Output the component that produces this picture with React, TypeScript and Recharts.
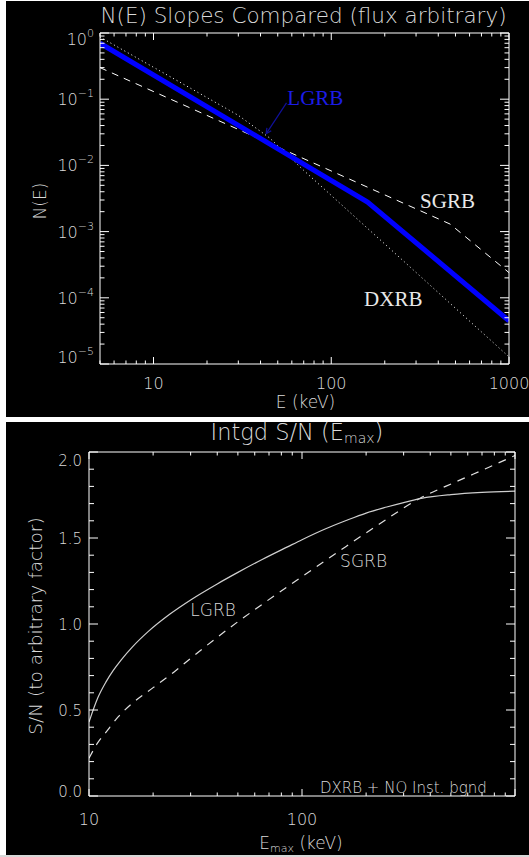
import React from 'react';
import { LineChart, Line, XAxis, YAxis, ReferenceDot, ReferenceLine } from 'recharts';

// ---------------- Top panel: N(E) slopes ----------------
const lgrbE = [5, 160, 1000];
const lgrbN = [0.7, 0.0028, 0.000045];
const sgrbE = [5, 466, 1000];
const sgrbN = [0.3, 0.0013, 0.00024];
const dxrbE = [5, 15, 30, 45, 70, 200, 1000];
const dxrbN = [0.87, 0.164, 0.057, 0.026, 0.0084, 0.00065, 0.0000128];

const topXMajor = [10, 100, 1000];
const topXLabels = ['10', '100', '1000'];
const topXMinor = [5, 6, 7, 8, 9, 20, 30, 40, 50, 60, 70, 80, 90, 200, 300, 400, 500, 600, 700, 800, 900];
const topYMajor = [1, 0.1, 0.01, 0.001, 0.0001, 0.00001];
const topYExp = ['0', '\u22121', '\u22122', '\u22123', '\u22124', '\u22125'];
const minorMult = [2, 3, 4, 5, 6, 7, 8, 9];
const topYMinor = [0.00001, 0.0001, 0.001, 0.01, 0.1].flatMap((d) => minorMult.map((m) => m * d));

// ---------------- Bottom panel: integrated S/N ----------------
const snLgrbE = [10, 11, 12, 13, 14.2, 16, 19, 24, 30, 40, 50, 65, 86, 100, 130, 160, 200, 250, 300, 363, 500, 700, 1000];
const snLgrbV = [0.43, 0.571, 0.662, 0.73, 0.793, 0.867, 0.957, 1.058, 1.14, 1.233, 1.3, 1.375, 1.45, 1.49, 1.555, 1.6, 1.645, 1.68, 1.706, 1.73, 1.752, 1.765, 1.772];
const snSgrbE = [10, 11, 12, 13.7, 16, 20, 25, 30, 46, 61, 96, 148, 230, 357, 536, 750, 1000];
const snSgrbV = [0.22, 0.31, 0.37, 0.46, 0.54, 0.63, 0.72, 0.8, 0.98, 1.09, 1.26, 1.42, 1.58, 1.73, 1.83, 1.91, 1.98];

const botXMajor = [10, 100, 1000];
const botXLabels = ['10', '100', ''];
const botXMinor = [20, 30, 40, 50, 60, 70, 80, 90, 200, 300, 400, 500, 600, 700, 800, 900];
const botYMajor = [0, 0.5, 1, 1.5, 2];
const botYLabels = ['0.0', '0.5', '1.0', '1.5', '2.0'];
const botYMinor = [0.1, 0.2, 0.3, 0.4, 0.6, 0.7, 0.8, 0.9, 1.1, 1.2, 1.3, 1.4, 1.6, 1.7, 1.8, 1.9];

const toPts = (xs: number[], ys: number[]) => xs.map((e, i) => ({ e, v: ys[i] }));

const FG = '#dadada';
const SANS = "'DejaVu Sans', 'Liberation Sans', sans-serif";
const SERIF = "'Liberation Serif', 'DejaVu Serif', serif";

const xTick = (
  majors: number[],
  labels: string[] | null,
  side: 'bottom' | 'top',
  majLen: number,
  minLen: number,
  labelDy: number,
  fs: number
) =>
  (p: any) => {
    const v = p.payload.value;
    const idx = majors.indexOf(v);
    const len = idx >= 0 ? majLen : minLen;
    const d = side === 'bottom' ? -1 : 1;
    return (
      <g>
        <line x1={p.x} x2={p.x} y1={p.y} y2={p.y + d * len} stroke="#fff" strokeWidth={1} />
        {labels && idx >= 0 && labels[idx] ? (
          <text x={p.x} y={p.y + labelDy} textAnchor="middle" fontSize={fs} fill={FG} fontFamily={SANS} fontWeight={200}>
            {labels[idx]}
          </text>
        ) : null}
      </g>
    );
  };

const yTick = (
  majors: number[],
  render: ((idx: number, x: number, y: number) => React.ReactNode) | null,
  side: 'left' | 'right',
  majLen: number,
  minLen: number
) =>
  (p: any) => {
    const v = p.payload.value;
    const idx = majors.findIndex((m) => Math.abs(m - v) < 1e-12 * Math.max(1, Math.abs(m)) || m === v);
    const len = idx >= 0 ? majLen : minLen;
    const d = side === 'left' ? 1 : -1;
    return (
      <g>
        <line x1={p.x} x2={p.x + d * len} y1={p.y} y2={p.y} stroke="#fff" strokeWidth={1} />
        {render && idx >= 0 ? render(idx, p.x, p.y) : null}
      </g>
    );
  };

const topYLabel = (idx: number, x: number, y: number) => {
  const last = topYMajor.length - 1;
  const base = idx === 0 ? y + 12 : idx === last ? y - 1 : y + 6;
  return (
    <text x={x - 6} y={base} textAnchor="end" fontSize={16} fill={FG} fontFamily={SANS} fontWeight={200}>
      10
      <tspan fontSize={11} dy={-8}>{topYExp[idx]}</tspan>
    </text>
  );
};

const botYLabel = (idx: number, x: number, y: number) => {
  const last = botYMajor.length - 1;
  const base = idx === 0 ? y + 1 : idx === last ? y + 14 : y + 6;
  return (
    <text x={x - 7} y={base} textAnchor="end" fontSize={15} fill={FG} fontFamily={SANS} fontWeight={200}>
      {botYLabels[idx]}
    </text>
  );
};

const serifLabel = (txt: string, color: string) => (p: any) => (
  <text x={p.cx} y={p.cy} fontSize={21} fill={color} fontFamily={SERIF}>
    {txt}
  </text>
);

const sansLabel = (txt: string) => (p: any) => (
  <text x={p.cx} y={p.cy} fontSize={17} fill={FG} fontFamily={SANS} fontWeight={200}>
    {txt}
  </text>
);

const arrowShape = (p: any) => {
  const { x1, y1, x2, y2 } = p;
  const ang = Math.atan2(y2 - y1, x2 - x1);
  const h = 6;
  const a1 = ang + Math.PI - 0.45;
  const a2 = ang + Math.PI + 0.45;
  return (
    <g stroke="#10109a" strokeWidth={1.2} fill="none">
      <line x1={x1} y1={y1} x2={x2} y2={y2} />
      <line x1={x2} y1={y2} x2={x2 + h * Math.cos(a1)} y2={y2 + h * Math.sin(a1)} />
      <line x1={x2} y1={y2} x2={x2 + h * Math.cos(a2)} y2={y2 + h * Math.sin(a2)} />
    </g>
  );
};

function TopChart() {
  return (
    <LineChart width={523} height={416} margin={{ top: 0, right: 0, bottom: 0, left: 0 }}>
      <XAxis
        xAxisId="b" type="number" dataKey="e" scale="log" domain={[5, 1000]} allowDataOverflow
        ticks={[...topXMinor, ...topXMajor]} interval={0} tickSize={0} tickMargin={0} height={53}
        axisLine={{ stroke: '#fff' }} tickLine={false}
        tick={xTick(topXMajor, topXLabels, 'bottom', 7, 3.5, 25, 16)}
      />
      <XAxis
        xAxisId="t" orientation="top" type="number" dataKey="e" scale="log" domain={[5, 1000]} allowDataOverflow
        ticks={[...topXMinor, ...topXMajor]} interval={0} tickSize={0} tickMargin={0} height={32}
        axisLine={{ stroke: '#fff' }} tickLine={false}
        tick={xTick(topXMajor, null, 'top', 7, 3.5, 0, 16)}
      />
      <YAxis
        yAxisId="l" type="number" scale="log" domain={[0.00001, 1]} allowDataOverflow
        ticks={[...topYMinor, ...topYMajor]} interval={0} tickSize={0} tickMargin={0} width={94}
        axisLine={{ stroke: '#fff' }} tickLine={false}
        tick={yTick(topYMajor, topYLabel, 'left', 9, 4.5)}
      />
      <YAxis
        yAxisId="r" orientation="right" type="number" scale="log" domain={[0.00001, 1]} allowDataOverflow
        ticks={[...topYMinor, ...topYMajor]} interval={0} tickSize={0} tickMargin={0} width={20}
        axisLine={{ stroke: '#fff' }} tickLine={false}
        tick={yTick(topYMajor, null, 'right', 9, 4.5)}
      />
      <Line xAxisId="b" yAxisId="l" data={toPts(dxrbE, dxrbN)} dataKey="v" stroke="#ffffff" strokeWidth={1}
        strokeDasharray="1 3" dot={false} activeDot={false} isAnimationActive={false} type="linear" />
      <Line xAxisId="b" yAxisId="l" data={toPts(sgrbE, sgrbN)} dataKey="v" stroke="#ffffff" strokeWidth={1}
        strokeDasharray="7 6" dot={false} activeDot={false} isAnimationActive={false} type="linear" />
      <Line xAxisId="b" yAxisId="l" data={toPts(lgrbE, lgrbN)} dataKey="v" stroke="#0000ff" strokeWidth={5}
        dot={false} activeDot={false} isAnimationActive={false} type="linear" />
      <ReferenceLine xAxisId="b" yAxisId="l" segment={[{ x: 56, y: 0.088 }, { x: 43, y: 0.03 }]} shape={arrowShape} />
      <ReferenceDot xAxisId="b" yAxisId="l" x={56.6} y={0.0817} r={0} shape={serifLabel('LGRB', '#1c1ce6')} />
      <ReferenceDot xAxisId="b" yAxisId="l" x={316} y={0.0023} r={0} shape={serifLabel('SGRB', '#e8e8e8')} />
      <ReferenceDot xAxisId="b" yAxisId="l" x={153} y={0.000076} r={0} shape={serifLabel('DXRB', '#e8e8e8')} />
    </LineChart>
  );
}

function BottomChart() {
  return (
    <LineChart width={523} height={433} margin={{ top: 0, right: 0, bottom: 0, left: 0 }}>
      <XAxis
        xAxisId="b" type="number" dataKey="e" scale="log" domain={[10, 1000]} allowDataOverflow
        ticks={[...botXMinor, ...botXMajor]} interval={0} tickSize={0} tickMargin={0} height={59}
        axisLine={{ stroke: '#fff' }} tickLine={false}
        tick={xTick(botXMajor, botXLabels, 'bottom', 7, 3.5, 29, 16)}
      />
      <XAxis
        xAxisId="t" orientation="top" type="number" dataKey="e" scale="log" domain={[10, 1000]} allowDataOverflow
        ticks={[...botXMinor, ...botXMajor]} interval={0} tickSize={0} tickMargin={0} height={30}
        axisLine={{ stroke: '#fff' }} tickLine={false}
        tick={xTick(botXMajor, null, 'top', 7, 3.5, 0, 16)}
      />
      <YAxis
        yAxisId="l" type="number" domain={[0, 2]} allowDataOverflow
        ticks={[...botYMinor, ...botYMajor]} interval={0} tickSize={0} tickMargin={0} width={83}
        axisLine={{ stroke: '#fff' }} tickLine={false}
        tick={yTick(botYMajor, botYLabel, 'left', 9, 5)}
      />
      <YAxis
        yAxisId="r" orientation="right" type="number" domain={[0, 2]} allowDataOverflow
        ticks={[...botYMinor, ...botYMajor]} interval={0} tickSize={0} tickMargin={0} width={14}
        axisLine={{ stroke: '#fff' }} tickLine={false}
        tick={yTick(botYMajor, null, 'right', 9, 5)}
      />
      <Line xAxisId="b" yAxisId="l" data={toPts(snSgrbE, snSgrbV)} dataKey="v" stroke="#e0e0e0" strokeWidth={1.2}
        strokeDasharray="8 7" dot={false} activeDot={false} isAnimationActive={false} type="monotone" />
      <Line xAxisId="b" yAxisId="l" data={toPts(snLgrbE, snLgrbV)} dataKey="v" stroke="#cfcfcf" strokeWidth={1.2}
        dot={false} activeDot={false} isAnimationActive={false} type="monotone" />
      <ReferenceDot xAxisId="b" yAxisId="l" x={29.9} y={1.047} r={0} shape={sansLabel('LGRB')} />
      <ReferenceDot xAxisId="b" yAxisId="l" x={151} y={1.331} r={0} shape={sansLabel('SGRB')} />
    </LineChart>
  );
}

export default function App() {
  const t = { fill: FG, fontFamily: SANS, fontWeight: 200 } as const;
  return (
    <div style={{ position: 'absolute', left: 0, top: 0, width: 529, height: 857, background: '#ffffff', overflow: 'hidden' }}>
      <div style={{ position: 'absolute', left: 6, top: 1, width: 523, height: 416, background: '#000' }}>
        <TopChart />
      </div>
      <div style={{ position: 'absolute', left: 6, top: 422, width: 523, height: 433, background: '#000' }}>
        <BottomChart />
      </div>
      <div style={{ position: 'absolute', left: 0, top: 855, width: 529, height: 2, background: '#d8d8d8' }} />
      <svg width={529} height={857} style={{ position: 'absolute', left: 0, top: 0, pointerEvents: 'none' }}>
        <text x={303.5} y={23} textAnchor="middle" fontSize={21.5} {...t}>N(E) Slopes Compared (flux arbitrary)</text>
        <text x={305.5} y={408} textAnchor="middle" fontSize={17} {...t}>E (keV)</text>
        <text x={40} y={201} textAnchor="middle" dominantBaseline="central" fontSize={17} transform="rotate(-90 40 201)" {...t}>N(E)</text>
        <text x={297} y={440} textAnchor="middle" fontSize={22.5} {...t}>
          Intgd S/N (E<tspan fontSize={14} dy={3}>max</tspan><tspan dy={-3}>)</tspan>
        </text>
        <text x={35.5} y={626} textAnchor="middle" dominantBaseline="central" fontSize={18.5} transform="rotate(-90 35.5 626)" {...t}>
          S/N (to arbitrary factor)
        </text>
        <text x={301} y={849} textAnchor="middle" fontSize={17} {...t}>
          E<tspan fontSize={11} dy={3}>max</tspan><tspan dy={-3}> (keV)</tspan>
        </text>
        <text x={320} y={793} fontSize={15} {...t}>DXRB + NO Inst. bgnd</text>
      </svg>
    </div>
  );
}
